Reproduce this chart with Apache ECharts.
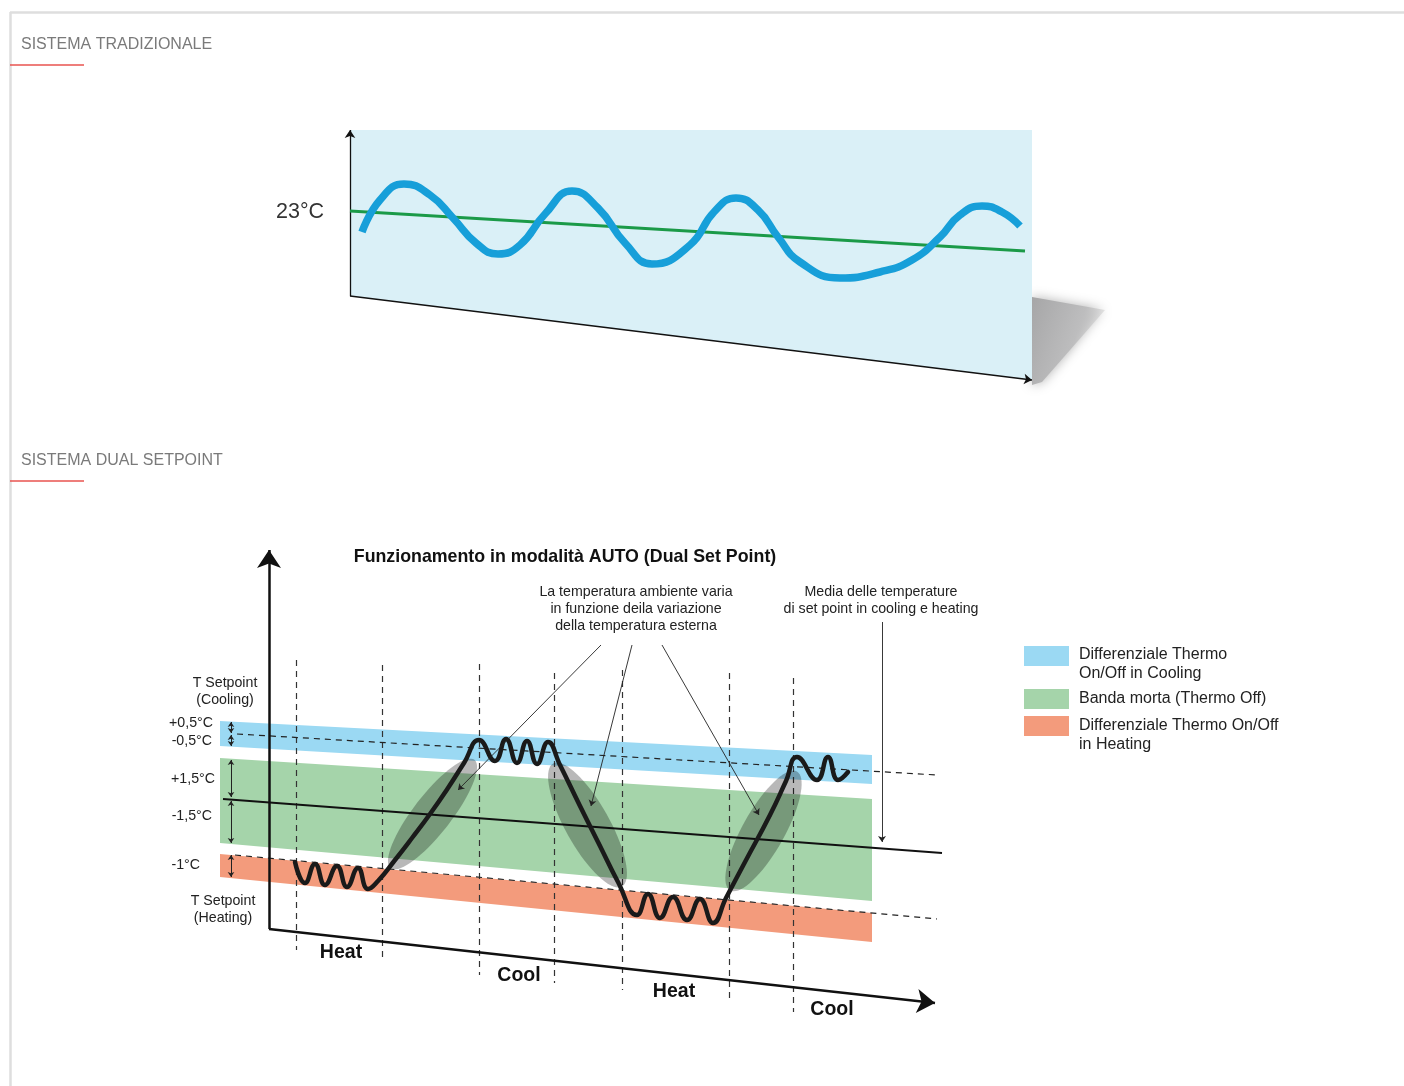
<!DOCTYPE html>
<html>
<head>
<meta charset="utf-8">
<script src="https://cdn.jsdelivr.net/npm/echarts@6/dist/echarts.min.js"></script>
<style>
  html, body { margin: 0; padding: 0; background: #fff; }
  #main { width: 1404px; height: 1086px; }
</style>
</head>
<body>
<div id="main"></div>
<script>
// diagram units = page pixels (hidden value axes 0..1404 / 0..1086)

// --- sistema tradizionale ---
var panel = [350, 130, 1032, 130, 1032, 380, 350, 296];
var panelShadow = [1032, 297, 1105, 310, 1042, 382, 1032, 385];
var roomTemp = [[362,232],[380,200],[404,184],[430,195],[453,218],[476,243],[498,254],[520,245],[545,214],[572,191],
  [598,208],[625,243],[652,264],[690,245],[714,212],[736,198],[758,210],[778,237],[800,262],[840,278],[880,272],
  [912,260],[940,237],[960,215],[982,206],[1002,212],[1020,226]];
var setLine = [[350,211],[1025,251]];
var topAxes = [[[350,296],[350,130]], [[350,296],[1032,380]]];

// --- sistema dual setpoint ---
var bandCooling = [220, 721, 872, 755, 872, 784, 220, 746];
var bandDead = [220, 758, 872, 799, 872, 901, 220, 843];
var bandHeating = [220, 854, 872, 913, 872, 942, 220, 877];
var setpointCool = [[237,734],[937,775]];
var setpointHeat = [[235,855],[937,919]];
var meanLine = [[223,799],[942,853]];
var phaseX = [296, 382, 479, 554, 622, 729, 793];
var phaseTop = [660, 665, 664, 673, 670, 673, 678];
var phaseBottom = [950, 962, 975, 983, 990, 1002, 1012];
var diffArrows = [[722,733],[735,746],[760,797],[801,843],[855,877]];
var ambient = [[295,862],[305,883],[315,864],[325,885],[337,866],[347,887],[358,868],[368,889],[378,881],
  [395,860],[412,838],[430,814],[448,788],[464,763],[479,740],[495,761],[506,739],[517,763],[527,741],[537,764],
  [548,742],[560,765],[580,806],[600,846],[618,882],[637,915],[648,894],[660,918],[673,897],[687,920],[700,899],
  [713,923],[726,898],[745,862],[770,815],[786,781],[797,757],[817,780],[828,757],[838,780],[848,772]];
var transitions = [[393,865,472,763],[555,767,620,883],[732,887,795,775]];
var transitionWidth = [38, 44, 42];
var callouts = [[[601,645],[458,790]], [[632,645],[591,806]], [[662,645],[759,815]], [[882,622],[882,842]]];
var bottomAxes = [[[269,929],[269,550]], [[269,929],[935,1003]]];

var sectionTitles = ['SISTEMA TRADIZIONALE', 'SISTEMA DUAL SETPOINT'];
var chartTitle = 'Funzionamento in modalità AUTO (Dual Set Point)';
var noteAmbient = 'La temperatura ambiente varia\nin funzione deila variazione\ndella temperatura esterna';
var noteMean = 'Media delle temperature\ndi set point in cooling e heating';
var tickLabels = ['+0,5°C', '-0,5°C', '+1,5°C', '-1,5°C', '-1°C'];
var phaseNames = ['Heat', 'Cool', 'Heat', 'Cool'];
var legendNames = ['Differenziale Thermo\nOn/Off in Cooling', 'Banda morta (Thermo Off)', 'Differenziale Thermo On/Off\nin Heating'];

var C_BLUE = '#9bd9f3', C_GREEN = '#a5d4aa', C_ORANGE = '#f39b7c';
var FONT = 'Liberation Sans, Arial, Helvetica, sans-serif';

var chart = echarts.init(document.getElementById('main'));

function polySeries(flat, style, z) {
  return {
    type: 'custom', silent: true, z: z, animation: false,
    data: [flat],
    encode: { x: [0, 2, 4, 6], y: [1, 3, 5, 7] },
    renderItem: function (params, api) {
      var pts = [];
      for (var i = 0; i < 4; i++) pts.push(api.coord([api.value(i * 2), api.value(i * 2 + 1)]));
      return { type: 'polygon', shape: { points: pts }, style: style };
    }
  };
}

function segSeries(segs, lineStyle, symbol, symbolSize, z) {
  return {
    type: 'lines', coordinateSystem: 'cartesian2d', silent: true, z: z, animation: false,
    symbol: symbol || ['none', 'none'], symbolSize: symbolSize || 6,
    lineStyle: lineStyle,
    data: segs.map(function (s) { return { coords: s }; })
  };
}

var phaseSegs = phaseX.map(function (x, i) { return [[x, phaseTop[i]], [x, phaseBottom[i]]]; });
var diffSegs = diffArrows.map(function (r) { return [[231, r[0]], [231, r[1]]]; });

var series = [
  // frame + underlines
  segSeries([[[10,12],[1404,12]], [[10,12],[10,1086]]], { color: '#dedede', width: 2.5, opacity: 1 }, null, null, 1),
  segSeries([[[10,65],[84,65]], [[10,481],[84,481]]], { color: '#e8534f', width: 1.5, opacity: 1 }, null, null, 1),

  // top panel
  polySeries(panelShadow, {
    fill: new echarts.graphic.LinearGradient(0, 0, 1, 0.3, [
      { offset: 0, color: '#a6a6a7' }, { offset: 0.7, color: '#bdbdbe' }, { offset: 1, color: 'rgba(210,210,210,0.4)' }
    ]),
    shadowBlur: 12, shadowColor: 'rgba(170,170,170,0.9)'
  }, 2),
  polySeries(panel, { fill: '#daf0f7' }, 3),
  segSeries([topAxes[0]], { color: '#111', width: 1.3, opacity: 1 }, ['none', 'arrow'], 8, 5),
  segSeries([topAxes[1]], { color: '#111', width: 1.3, opacity: 1 }, ['none', 'arrow'], 8, 5),
  {
    type: 'line', data: setLine, showSymbol: false, silent: true, z: 6, animation: false,
    lineStyle: { color: '#1b9a48', width: 3 }
  },
  {
    type: 'line', data: roomTemp, showSymbol: false, silent: true, z: 7, animation: false, smooth: 0.5,
    lineStyle: { color: '#179fd9', width: 7.5, cap: 'butt', join: 'round' }
  },

  // bottom diagram bands
  polySeries(bandCooling, { fill: C_BLUE }, 3),
  polySeries(bandDead, { fill: C_GREEN }, 3),
  polySeries(bandHeating, { fill: C_ORANGE }, 3),
  segSeries(phaseSegs, { color: '#333', width: 1.2, type: [6, 5], opacity: 1 }, null, null, 4),
  segSeries([setpointCool, setpointHeat], { color: '#222', width: 1.2, type: [6, 5], opacity: 1 }, null, null, 4),
  segSeries([meanLine], { color: '#111', width: 2, opacity: 1 }, null, null, 5),
  segSeries(diffSegs, { color: '#222', width: 1, opacity: 1 }, ['arrow', 'arrow'], 5, 5),
  {
    type: 'custom', silent: true, z: 6, animation: false,
    data: transitions,
    encode: { x: [0, 2], y: [1, 3] },
    renderItem: function (params, api) {
      var a = api.coord([api.value(0), api.value(1)]);
      var b = api.coord([api.value(2), api.value(3)]);
      var cx = (a[0] + b[0]) / 2, cy = (a[1] + b[1]) / 2;
      var rx = Math.hypot(b[0] - a[0], b[1] - a[1]) / 2 + 4;
      var ry = transitionWidth[params.dataIndex] / 2;
      var ang = Math.atan2(b[1] - a[1], b[0] - a[0]);
      var pts = [];
      for (var k = 0; k < 72; k++) {
        var t = k / 72 * Math.PI * 2;
        var ex = rx * Math.cos(t), ey = ry * Math.sin(t);
        pts.push([cx + ex * Math.cos(ang) - ey * Math.sin(ang), cy + ex * Math.sin(ang) + ey * Math.cos(ang)]);
      }
      return { type: 'polygon', shape: { points: pts }, style: { fill: 'rgba(0,0,0,0.28)' } };
    }
  },
  {
    type: 'line', data: ambient, showSymbol: false, silent: true, z: 8, animation: false, smooth: 0.5,
    lineStyle: { color: '#1a1a1a', width: 4.5, cap: 'round', join: 'round' }
  },
  segSeries(callouts, { color: '#222', width: 0.9, opacity: 1 }, ['none', 'arrow'], 6, 9),
  segSeries(bottomAxes, { color: '#111', width: 2.5, opacity: 1 }, ['none', 'arrow'], [13, 18], 9)
];

function txt(text, x, y, opt) {
  opt = opt || {};
  return {
    type: 'text', silent: true, z: 100,
    style: {
      text: text, x: x, y: y,
      fill: opt.fill || '#222',
      font: opt.font || ('14.2px ' + FONT),
      textAlign: opt.align || 'left', align: opt.align || 'left',
      textVerticalAlign: 'middle', verticalAlign: 'middle',
      lineHeight: opt.lineHeight || 17
    }
  };
}

var graphics = [
  txt(sectionTitles[0], 21, 45, { fill: '#7a7a7a', font: '16px ' + FONT }),
  txt(sectionTitles[1], 21, 461, { fill: '#7a7a7a', font: '16px ' + FONT }),
  txt('23°C', 324, 212, { fill: '#333', font: '21.5px ' + FONT, align: 'right' }),
  txt(chartTitle, 565, 557, { fill: '#111', font: 'bold 17.8px ' + FONT, align: 'center' }),
  txt(noteAmbient, 636, 609, { align: 'center' }),
  txt(noteMean, 881, 601, { align: 'center' }),
  txt('T Setpoint\n(Cooling)', 225, 692, { align: 'center' }),
  txt('T Setpoint\n(Heating)', 223, 910, { align: 'center' }),
  txt(tickLabels[0], 213, 723, { align: 'right' }),
  txt(tickLabels[1], 212, 741, { align: 'right' }),
  txt(tickLabels[2], 215, 779, { align: 'right' }),
  txt(tickLabels[3], 212, 816, { align: 'right' }),
  txt(tickLabels[4], 200, 865, { align: 'right' }),
  txt(phaseNames[0], 341, 953, { font: 'bold 19.5px ' + FONT, align: 'center', fill: '#111' }),
  txt(phaseNames[1], 519, 976, { font: 'bold 19.5px ' + FONT, align: 'center', fill: '#111' }),
  txt(phaseNames[2], 674, 992, { font: 'bold 19.5px ' + FONT, align: 'center', fill: '#111' }),
  txt(phaseNames[3], 832, 1010, { font: 'bold 19.5px ' + FONT, align: 'center', fill: '#111' }),
  { type: 'rect', silent: true, shape: { x: 1024, y: 646, width: 45, height: 20 }, style: { fill: C_BLUE } },
  { type: 'rect', silent: true, shape: { x: 1024, y: 689, width: 45, height: 20 }, style: { fill: C_GREEN } },
  { type: 'rect', silent: true, shape: { x: 1024, y: 716, width: 45, height: 20 }, style: { fill: C_ORANGE } },
  txt(legendNames[0], 1079, 664, { font: '16px ' + FONT, lineHeight: 19 }),
  txt(legendNames[1], 1079, 699, { font: '16px ' + FONT }),
  txt(legendNames[2], 1079, 735, { font: '16px ' + FONT, lineHeight: 19 })
];

chart.setOption({
  animation: false,
  backgroundColor: '#fff',
  grid: { left: 0, right: 0, top: 0, bottom: 0 },
  xAxis: { type: 'value', min: 0, max: 1404, show: false },
  yAxis: { type: 'value', min: 0, max: 1086, inverse: true, show: false },
  series: series,
  graphic: graphics
});
</script>
</body>
</html>
